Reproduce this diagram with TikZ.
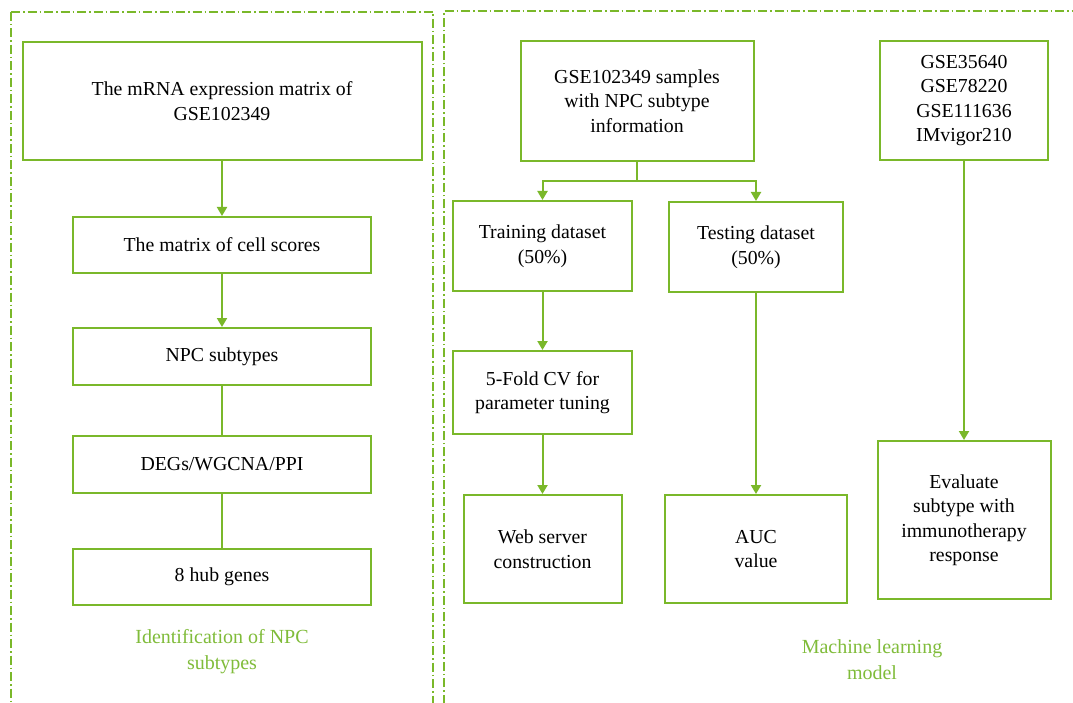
\documentclass[tikz,border=0pt]{standalone}
\usepackage{fontspec}
\setmainfont{Liberation Serif}
\usetikzlibrary{arrows.meta,positioning}
\definecolor{gline}{RGB}{122,184,42}
\definecolor{gtext}{RGB}{128,188,58}
\tikzset{
  box/.style={draw=gline, line width=2pt, align=center, inner sep=2pt, font=\fontsize{19.8}{24.5}\selectfont, text=black},
  conn/.style={draw=gline, line width=2pt},
  arr/.style={conn, -{Triangle[width=10pt,length=9pt]}},
  panel/.style={draw=gline, line width=1.5pt, dash pattern=on 9pt off 3pt on 1.5pt off 3pt},
  lbl/.style={text=gtext, align=center, font=\fontsize{20}{26}\selectfont}
}
\begin{document}
\begin{tikzpicture}[x=1pt,y=-1pt]
\useasboundingbox (0,0) rectangle (1073,703);
\clip (0,0) rectangle (1073,703);
\fill[white] (0,0) rectangle (1073,703);
% panels
\draw[panel] (11,12) -- (433,12) -- (433,720);
\draw[panel] (11,12) -- (11,720);
\draw[panel] (444,720) -- (444,11) -- (1090,11);
% left column
\node[box, minimum width=399pt, minimum height=118pt] (b1) at (222,101) {The mRNA expression matrix of\\GSE102349};
\node[box, minimum width=298pt, minimum height=56pt] (b2) at (222,245) {The matrix of cell scores};
\node[box, minimum width=298pt, minimum height=57pt] (b3) at (222,356.5) {NPC subtypes};
\node[box, minimum width=298pt, minimum height=57pt] (b4) at (222,464.5) {DEGs/WGCNA/PPI};
\node[box, minimum width=298pt, minimum height=56pt] (b5) at (222,577) {8 hub genes};
\draw[arr] (b1.south) -- (b2.north);
\draw[arr] (b2.south) -- (b3.north);
\draw[conn] (b3.south) -- (b4.north);
\draw[conn] (b4.south) -- (b5.north);
\node[lbl] (l1) at (222,652) {Identification of NPC\\subtypes};
% right panel
\node[box, minimum width=233pt, minimum height=120pt] (r1) at (637,101) {GSE102349 samples\\with NPC subtype\\information};
\node[box, minimum width=168pt, minimum height=119pt] (r2) at (964,100.5) {GSE35640\\GSE78220\\GSE111636\\IMvigor210};
\node[box, minimum width=179pt, minimum height=90pt] (tr) at (542.5,246) {Training dataset\\(50\%)};
\node[box, minimum width=174pt, minimum height=90pt] (te) at (756,247) {Testing dataset\\(50\%)};
\node[box, minimum width=179pt, minimum height=83pt] (cv) at (542.5,392.5) {5-Fold CV for\\parameter tuning};
\node[box, minimum width=158pt, minimum height=108pt] (web) at (542.5,549) {Web server\\construction};
\node[box, minimum width=182pt, minimum height=108pt] (auc) at (756,549) {AUC\\value};
\node[box, minimum width=173pt, minimum height=158pt] (ev) at (964,520) {Evaluate\\subtype with\\immunotherapy\\response};
\coordinate (split) at (637,181);
\draw[conn] (r1.south) -- (split);
\draw[arr] (split) -| (tr.north);
\draw[arr] (split) -| (te.north);
\draw[arr] (tr.south) -- (cv.north);
\draw[arr] (cv.south) -- (web.north);
\draw[arr] (te.south) -- (auc.north);
\draw[arr] (r2.south) -- (ev.north);
\node[lbl] (l2) at (872,660) {Machine learning\\model};
\end{tikzpicture}
\end{document}
